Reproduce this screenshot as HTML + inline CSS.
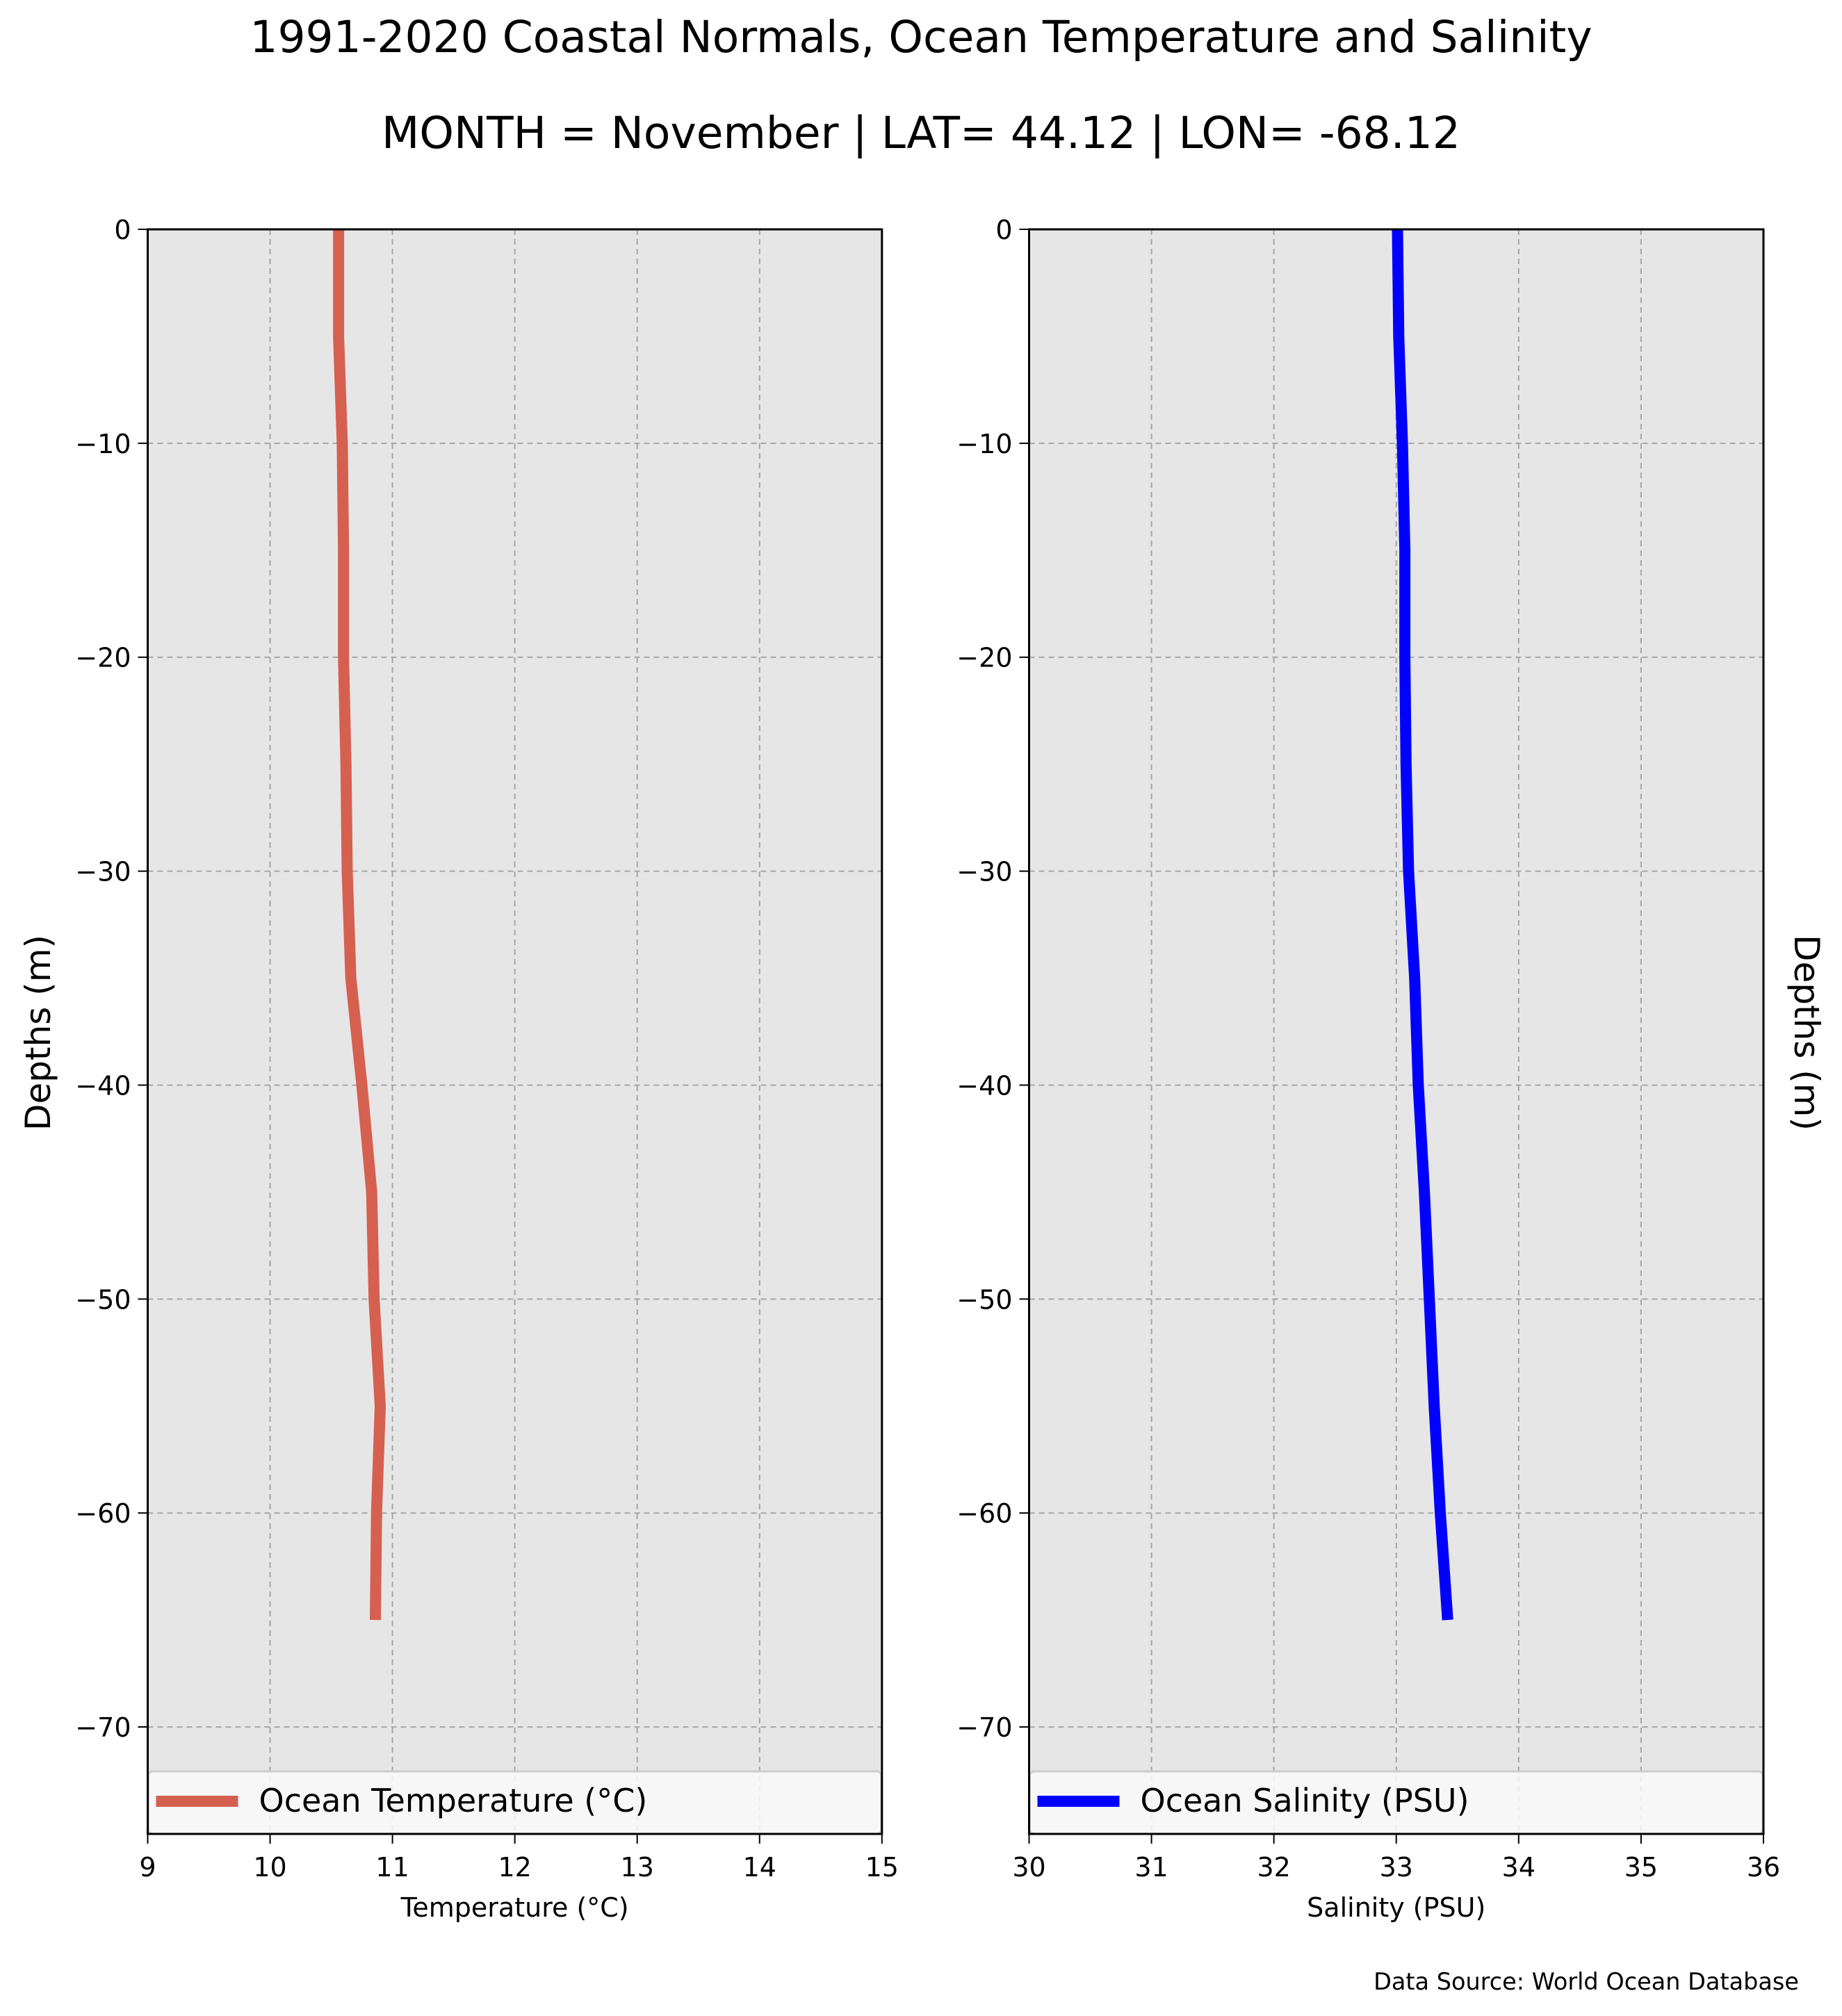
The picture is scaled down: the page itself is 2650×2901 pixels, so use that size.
<!DOCTYPE html>
<html><head><meta charset="utf-8"><style>
html,body{margin:0;padding:0;background:#fff;}
svg{display:block;font-family:"DejaVu Sans","Liberation Sans",sans-serif;}
</style></head><body>
<svg id="fig" width="2650" height="2901" viewBox="0 0 2650 2901" xmlns="http://www.w3.org/2000/svg">
<text x="1325" y="75" font-size="63" text-anchor="middle">1991-2020 Coastal Normals, Ocean Temperature and Salinity</text>
<text x="1325" y="213" font-size="63" text-anchor="middle">MONTH = November | LAT= 44.12 | LON= -68.12</text>
<g id="p1"></g>
<g id="p2"></g>
<text transform="translate(72,1486) rotate(-90)" font-size="50" text-anchor="middle">Depths (m)</text>
<text transform="translate(2582,1486) rotate(90)" font-size="50" text-anchor="middle">Depths (m)</text>
<text x="2588" y="2863" font-size="33.5" text-anchor="end">Data Source: World Ocean Database</text>
</svg>
<script>
const depths = [0,-5,-10,-15,-20,-25,-30,-35,-40,-45,-50,-55,-60,-65];
const temperature = [10.56,10.56,10.59,10.60,10.60,10.62,10.63,10.66,10.75,10.83,10.85,10.90,10.87,10.86];
const salinity = [33.01,33.02,33.05,33.07,33.07,33.08,33.10,33.15,33.18,33.23,33.27,33.31,33.36,33.42];
const yTicks = [0,-10,-20,-30,-40,-50,-60,-70];
const tempTicks = [9,10,11,12,13,14,15];
const salTicks = [30,31,32,33,34,35,36];
const NS='http://www.w3.org/2000/svg';
function mk(parent,tag,attrs){const e=document.createElementNS(NS,tag);for(const k in attrs)e.setAttribute(k,attrs[k]);parent.appendChild(e);return e;}
const yTop=330,yBot=2639;
function yScale(d){return yTop+(0-d)/75*(yBot-yTop);}
function panel(g,left,right,xmin,xmax,xt,vals,color,legendText,xlabel){
  const xs=v=>left+(v-xmin)/(xmax-xmin)*(right-left);
  const bg=mk(g,'rect',{x:left,y:yTop,width:right-left,height:yBot-yTop,fill:'#e6e6e6'});
  
  
  xt.forEach(v=>{
    const l=mk(g,'line',{x1:xs(v),x2:xs(v),y1:yTop,y2:yBot,stroke:'#a6a6a6','stroke-width':2,'stroke-dasharray':'8,6'});
    
    
    const t=mk(g,'line',{x1:xs(v),x2:xs(v),y1:yBot,y2:yBot+14,stroke:'#000','stroke-width':2});
    
    
    const tl=mk(g,'text',{x:xs(v),y:2700,'font-size':38,'text-anchor':'middle'});
    tl.textContent=v;
    
    
  });
  yTicks.forEach(v=>{
    const y=yScale(v);
    const l=mk(g,'line',{x1:left,x2:right,y1:y,y2:y,stroke:'#a6a6a6','stroke-width':2,'stroke-dasharray':'8,6'});
    
    
    const t=mk(g,'line',{x1:left-14,x2:left,y1:y,y2:y,stroke:'#000','stroke-width':2});
    
    
    const tl=mk(g,'text',{x:left-24,y:y+14,'font-size':38,'text-anchor':'end'});
    tl.textContent=v===0?'0':'\u2212'+Math.abs(v);
    
    
  });
  const pts=depths.map((d,i)=>xs(vals[i]).toFixed(1)+','+yScale(d).toFixed(1)).join(' ');
  const pl=mk(g,'polyline',{points:pts,fill:'none',stroke:color,'stroke-width':16,'stroke-linejoin':'miter'});
  
  
  const lg=mk(g,'g',{});
  
  
  mk(lg,'rect',{x:left+1,y:2549,width:right-left-2,height:90,rx:6,fill:'#f9f9f9','fill-opacity':0.85,stroke:'#cccccc','stroke-width':3});
  const h=mk(lg,'line',{x1:left+12,x2:left+130,y1:2592,y2:2592,stroke:color,'stroke-width':16});
  
  
  const lt=mk(lg,'text',{x:left+160,y:2607,'font-size':46});
  lt.textContent=legendText;
  
  
  const fr=mk(g,'rect',{x:left,y:yTop,width:right-left,height:yBot-yTop,fill:'none',stroke:'#000','stroke-width':3});
  
  
  const xl=mk(g,'text',{x:(left+right)/2,y:2758,'font-size':38,'text-anchor':'middle'});
  xl.textContent=xlabel;
  
  
}
panel(document.getElementById('p1'),212.5,1268.8,9,15,tempTicks,temperature,'#d66050','Ocean Temperature (\u00b0C)','Temperature (\u00b0C)');
panel(document.getElementById('p2'),1480.5,2537,30,36,salTicks,salinity,'#0000ff','Ocean Salinity (PSU)','Salinity (PSU)');
</script>
</body></html>
